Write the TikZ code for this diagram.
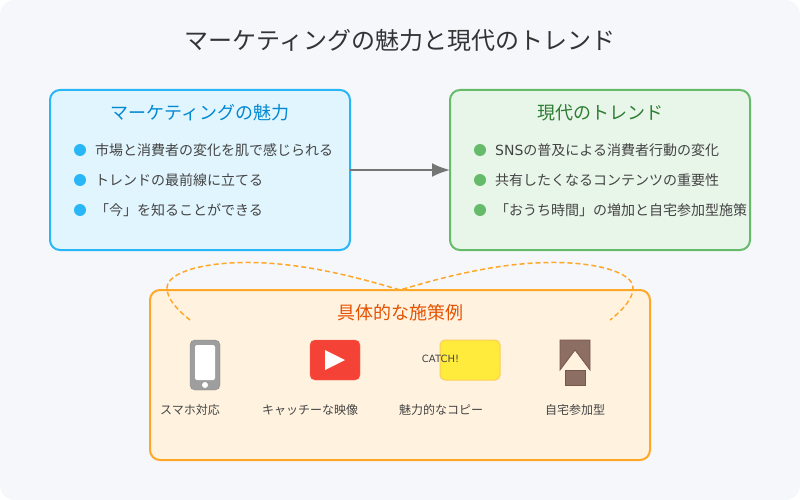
\documentclass[tikz,border=0pt]{standalone}
\usepackage{fontspec}
\setmainfont{Noto Sans CJK JP}
\newfontfamily\latinfont{DejaVu Sans}
\usetikzlibrary{arrows.meta}
\definecolor{pagebg}{HTML}{F5F7FB}
\definecolor{titletext}{HTML}{333333}
\definecolor{bodytext}{HTML}{444444}
\definecolor{bluefill}{HTML}{E1F5FE}
\definecolor{blueline}{HTML}{29B6F6}
\definecolor{bluetext}{HTML}{0288D1}
\definecolor{greenfill}{HTML}{E8F5E9}
\definecolor{greenline}{HTML}{66BB6A}
\definecolor{greentext}{HTML}{2E7D32}
\definecolor{orangefill}{HTML}{FFF3E0}
\definecolor{orangeline}{HTML}{FFA726}
\definecolor{orangetext}{HTML}{E65100}
\definecolor{phonegray}{HTML}{9E9E9E}
\definecolor{videored}{HTML}{F44336}
\definecolor{copyyellow}{HTML}{FFEB3B}
\definecolor{copyline}{HTML}{FBC02D}
\definecolor{homebrown}{HTML}{8D6E63}
\definecolor{homeline}{HTML}{6D4C41}
\begin{document}
\begin{tikzpicture}
[
x=1pt, y=-1pt,
panel/.style={rectangle, rounded corners=10pt, line width=2pt, outer sep=0pt, inner sep=0pt},
bluepanel/.style={panel, draw=blueline, fill=bluefill, minimum width=300pt, minimum height=160pt},
greenpanel/.style={panel, draw=greenline, fill=greenfill, minimum width=300pt, minimum height=160pt},
orangepanel/.style={panel, draw=orangeline, fill=orangefill, minimum width=500pt, minimum height=170pt},
heading/.style={inner sep=0pt, font=\fontsize{18}{22}\selectfont},
bulletdot/.style={circle, inner sep=0pt, minimum size=12pt},
item/.style={anchor=west, inner sep=0pt, text=bodytext, font=\fontsize{14}{18}\selectfont},
caption/.style={inner sep=0pt, text=bodytext, font=\fontsize{12}{15}\selectfont},
icon/.style={rectangle, inner sep=0pt, outer sep=0pt}
]
\useasboundingbox (0,0) rectangle (800,500);
\fill[pagebg, rounded corners=15pt] (0,0) rectangle (800,500);

%Nodes
\node (title) at (400,40) [inner sep=0pt, text=titletext, font=\fontsize{24}{28}\selectfont] {マーケティングの魅力と現代のトレンド};

\node[bluepanel]    (appeal)        at (200,170)    {};
\node[heading, text=bluetext]   (appeal_title)  at (200,113)    {マーケティングの魅力};
\node[bulletdot, fill=blueline] (appeal_dot1)   at (80,150)     {};
\node[bulletdot, fill=blueline] (appeal_dot2)   at (80,180)     {};
\node[bulletdot, fill=blueline] (appeal_dot3)   at (80,210)     {};
\node[item]         (appeal_item1)  at (95,150)     {市場と消費者の変化を肌で感じられる};
\node[item]         (appeal_item2)  at (95,180)     {トレンドの最前線に立てる};
\node[item]         (appeal_item3)  at (95,210)     {「今」を知ることができる};

\node[greenpanel]   (trend)         at (600,170)    {};
\node[heading, text=greentext]  (trend_title)   at (600,113)    {現代のトレンド};
\node[bulletdot, fill=greenline] (trend_dot1)   at (480,150)    {};
\node[bulletdot, fill=greenline] (trend_dot2)   at (480,180)    {};
\node[bulletdot, fill=greenline] (trend_dot3)   at (480,210)    {};
\node[item]         (trend_item1)   at (495,150)    {{\latinfont SNS}の普及による消費者行動の変化};
\node[item]         (trend_item2)   at (495,180)    {共有したくなるコンテンツの重要性};
\node[item]         (trend_item3)   at (495,210)    {「おうち時間」の増加と自宅参加型施策};

\node[orangepanel]  (example)       at (400,375)    {};
\node[heading, text=orangetext] (example_title) at (400,313)    {具体的な施策例};

%Icons
\node[icon, draw=phonegray!85!black, fill=phonegray, rounded corners=5pt, minimum width=30pt, minimum height=50pt] (phone) at (205,365) {};
\node[icon, fill=white, rounded corners=2pt, minimum width=20pt, minimum height=35pt] (phone_screen) at (205,362.5) {};
\node[circle, fill=white, inner sep=0pt, minimum size=6pt] (phone_button) at (205,385) {};

\node[icon, draw=videored!85!white, fill=videored, rounded corners=5pt, minimum width=50pt, minimum height=40pt] (video) at (335,360) {};
\fill[white] (325,350) -- (345,360) -- (325,370) -- cycle;

\node[icon, draw=copyline!80!white, line width=1pt, fill=copyyellow, rounded corners=5pt, minimum width=60pt, minimum height=40pt] (copybox) at (470,360) {};
\node (catch) at (440.5,358.5) [inner sep=0pt, text=bodytext, font=\latinfont\fontsize{10}{12}\selectfont] {CATCH!};

\draw[homeline!70!homebrown, fill=homebrown, line width=0.8pt] (560,340) -- (590,340) -- (590,370) -- (575,350) -- (560,370) -- cycle;
\node[icon, draw=homeline!70!homebrown, fill=homebrown, line width=0.8pt, minimum width=20pt, minimum height=15pt] (home_base) at (575,377.5) {};

\node[caption] (phone_text) at (190,410) {スマホ対応};
\node[caption] (video_text) at (310,410) {キャッチーな映像};
\node[caption] (copy_text)  at (441,410) {魅力的なコピー};
\node[caption] (home_text)  at (575,410) {自宅参加型};

%Lines
\coordinate (brace_left)  at (190,320);
\coordinate (brace_mid)   at (400,290);
\coordinate (brace_right) at (610,320);
\draw[-{Latex[length=18pt,width=14pt]}, line width=2pt, draw=black!54, fill=black!54] (appeal.east) -- (trend.west);
\draw[orangeline, line width=1.5pt, dash pattern=on 5pt off 3pt]
(brace_left) .. controls (176,309) and (167,298) .. (167,288)
.. controls (167,272) and (205,262) .. (250,262.5)
.. controls (300,263) and (350,275) .. (brace_mid)
.. controls (450,275) and (500,263) .. (550,262.5)
.. controls (595,262) and (633,272) .. (633,288)
.. controls (633,298) and (624,309) .. (brace_right);
\end{tikzpicture}
\end{document}
